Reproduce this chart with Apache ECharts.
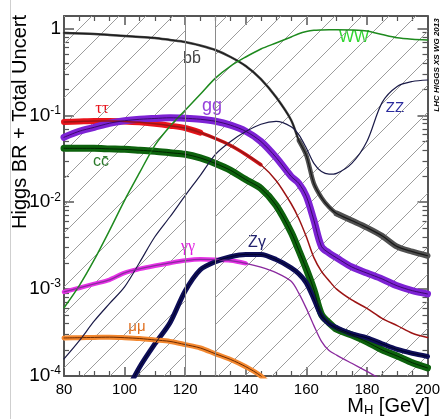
<!DOCTYPE html>
<html>
<head>
<meta charset="utf-8">
<script src="https://cdn.jsdelivr.net/npm/echarts@6/dist/echarts.min.js"></script>
<style>
html, body { margin: 0; padding: 0; background: #fff; }
#main { width: 443px; height: 419px; }
</style>
</head>
<body>
<div id="main"></div>
<script>
// Higgs mass points (GeV)
const mass = [80, 85, 90, 95, 100, 105, 110, 115, 120, 125, 130, 135, 140, 145, 150, 155, 157.5, 160, 162.5, 165, 167.5, 170, 175, 180, 185, 190, 195, 200];

// branching ratios
const brBB = [0.887, 0.876, 0.864, 0.841, 0.819, 0.798, 0.777, 0.737, 0.698, 0.636, 0.565, 0.469, 0.369, 0.261, 0.162, 0.0878, 0.0516, 0.0346, 0.0164, 0.0113, 0.0088, 0.0074, 0.00615, 0.0051, 0.0041, 0.00308, 0.0027, 0.00242];
const brWW = [6.1e-4, 1.09e-3, 2.18e-3, 4.71e-3, 0.0105, 0.022, 0.0452, 0.0749, 0.1146, 0.175, 0.268, 0.369, 0.469, 0.58, 0.68, 0.798, 0.87, 0.92, 0.95, 0.96, 0.965, 0.965, 0.96, 0.935, 0.85, 0.78, 0.75, 0.735];
const brZZ = [1.57e-4, 2.53e-4, 4.3e-4, 6.8e-4, 1.06e-3, 2.04e-3, 4.0e-3, 6.8e-3, 0.0119, 0.0204, 0.0356, 0.05, 0.065, 0.079, 0.085, 0.074, 0.06, 0.042, 0.028, 0.0225, 0.021, 0.0215, 0.028, 0.05, 0.14, 0.215, 0.245, 0.255];
const brTauTau = [0.084, 0.085, 0.086, 0.086, 0.085, 0.083, 0.080, 0.076, 0.0714, 0.0632, 0.0541, 0.045, 0.0355, 0.027, 0.0178, 0.0096, 0.0065, 0.0040, 0.0023, 0.0016, 0.00125, 0.0010, 7.5e-4, 6.0e-4, 4.6e-4, 3.8e-4, 3.1e-4, 2.77e-4];
const brGG = [0.0559, 0.0655, 0.0728, 0.0811, 0.0866, 0.090, 0.092, 0.0937, 0.0925, 0.090, 0.0854, 0.077, 0.0655, 0.050, 0.0328, 0.0198, 0.0165, 0.0117, 0.0062, 0.0031, 0.0026, 0.00229, 0.0018, 0.00153, 0.00131, 0.00109, 9.6e-4, 8.8e-4];
const brCC = [0.0417, 0.0417, 0.0417, 0.0411, 0.0406, 0.0396, 0.0386, 0.0371, 0.0356, 0.0323, 0.0279, 0.0233, 0.0182, 0.0144, 0.0092, 0.0045, 0.0028, 0.0017, 9.8e-4, 5.1e-4, 4.1e-4, 3.45e-4, 2.96e-4, 2.47e-4, 2.0e-4, 1.7e-4, 1.42e-4, 1.24e-4];
const brGamGam = [9.3e-4, 1.03e-3, 1.15e-3, 1.28e-3, 1.54e-3, 1.71e-3, 1.86e-3, 2.0e-3, 2.13e-3, 2.2e-3, 2.18e-3, 2.13e-3, 1.98e-3, 1.79e-3, 1.55e-3, 1.23e-3, 9.0e-4, 6.0e-4, 3.8e-4, 2.5e-4, 1.96e-4, 1.74e-4, 1.4e-4, 1.13e-4, 9.1e-5, 7.9e-5, 7.0e-5, 6.3e-5];
const brZGam = [null, null, null, null, 6e-5, 1.27e-4, 2.34e-4, 4.1e-4, 9.5e-4, 1.67e-3, 2.07e-3, 2.36e-3, 2.51e-3, 2.5e-3, 2.19e-3, 1.76e-3, 1.5e-3, 1.18e-3, 7.7e-4, 4.9e-4, 3.98e-4, 3.6e-4, 3.05e-4, 2.75e-4, 2.35e-4, 2.02e-4, 1.82e-4, 1.68e-4];
const brMuMu = [2.74e-4, 2.76e-4, 2.78e-4, 2.8e-4, 2.76e-4, 2.7e-4, 2.6e-4, 2.5e-4, 2.3e-4, 2.1e-4, 1.8e-4, 1.55e-4, 1.28e-4, 1.0e-4, 6.7e-5, 3.5e-5, null, null, null, null, null, null, null, null, null, null, null, null];

// tick values
const yMajor = [1e-4, 1e-3, 1e-2, 1e-1, 1];
const yMinor = [];
[1e-4, 1e-3, 1e-2, 1e-1].forEach(d => { for (let m = 2; m <= 9; m++) yMinor.push(+(m * d).toPrecision(3)); });
const hatchRanges = [[80, 120], [130, 200]];
const edgeLines = [120, 130];

const FONT = 'Liberation Sans, Arial, sans-serif';
const FRAME = '#555';

// diagonal hatch tile, lines x + y = c
const hatch = document.createElement('canvas');
hatch.width = 27; hatch.height = 27;
const hctx = hatch.getContext('2d');
hctx.strokeStyle = '#9c9c9c';
hctx.lineWidth = 1;
[0, 27, 54].forEach(c => { hctx.beginPath(); hctx.moveTo(c - 28, 28); hctx.lineTo(c + 1, -1); hctx.stroke(); });

function part(vals, lo, hi) {
    const out = [];
    mass.forEach((m, i) => {
        if (m >= lo && m <= hi && vals[i] != null) out.push([m, vals[i]]);
    });
    return out;
}

function curve(vals, color, width, lo, hi) {
    return {
        type: 'line',
        data: part(vals, lo, hi),
        symbol: 'none',
        smooth: 0.3,
        silent: true,
        lineStyle: { color: color, width: width, cap: 'round', join: 'round' },
    };
}

const chart = echarts.init(document.getElementById('main'), null, { renderer: 'canvas' });

const yBase = { type: 'log', logBase: 10, min: 1e-4, max: 1.39, splitLine: { show: false } };
const xBase = { type: 'value', min: 80, max: 200, interval: 20, splitLine: { show: false } };

const option = {
    animation: false,
    backgroundColor: '#fff',
    grid: { left: 64, right: 13, top: 16, bottom: 43 },
    xAxis: [
        Object.assign({}, xBase, {
            position: 'bottom',
            axisLine: { show: true, lineStyle: { color: FRAME, width: 2 } },
            axisTick: { inside: true, length: 9, lineStyle: { color: FRAME, width: 1.5 } },
            minorTick: { show: true, splitNumber: 4, length: 5, lineStyle: { color: FRAME, width: 1.2 } },
            axisLabel: { fontFamily: FONT, fontSize: 15, color: '#000', margin: 6 },
        }),
        Object.assign({}, xBase, {
            position: 'top',
            axisLine: { show: true, lineStyle: { color: FRAME, width: 2 } },
            axisTick: { inside: true, length: 9, lineStyle: { color: FRAME, width: 1.5 } },
            minorTick: { show: true, splitNumber: 4, length: 5, lineStyle: { color: FRAME, width: 1.2 } },
            axisLabel: { show: false },
        }),
    ],
    yAxis: [
        Object.assign({}, yBase, {
            position: 'left',
            axisLine: { show: true, lineStyle: { color: FRAME, width: 2 } },
            axisTick: { inside: true, length: 10, customValues: yMajor, lineStyle: { color: FRAME, width: 1.5 } },
            axisLabel: {
                customValues: yMajor,
                margin: 3,
                formatter: v => v >= 0.99 ? '{n|1}' : '{n|10}{s|' + Math.round(Math.log10(v)) + '}',
                rich: {
                    n: { fontFamily: FONT, fontSize: 19, color: '#000' },
                    s: { fontFamily: FONT, fontSize: 12, color: '#000', padding: [0, 0, 10, 0] },
                },
            },
        }),
        Object.assign({}, yBase, {
            position: 'left',
            axisLine: { show: false },
            axisTick: { inside: true, length: 5, customValues: yMinor, lineStyle: { color: FRAME, width: 1.2 } },
            axisLabel: { show: false },
        }),
        Object.assign({}, yBase, {
            position: 'right',
            axisLine: { show: true, lineStyle: { color: FRAME, width: 2 } },
            axisTick: { inside: true, length: 10, customValues: yMajor, lineStyle: { color: FRAME, width: 1.5 } },
            axisLabel: { show: false },
        }),
        Object.assign({}, yBase, {
            position: 'right',
            axisLine: { show: false },
            axisTick: { inside: true, length: 5, customValues: yMinor, lineStyle: { color: FRAME, width: 1.2 } },
            axisLabel: { show: false },
        }),
    ],
    series: [
        {
            type: 'line',
            data: [],
            silent: true,
            markArea: {
                silent: true,
                itemStyle: { color: { image: hatch, repeat: 'repeat' } },
                data: hatchRanges.map(r => [{ xAxis: r[0] }, { xAxis: r[1] }]),
            },
            markLine: {
                silent: true,
                symbol: 'none',
                label: { show: false },
                lineStyle: { color: '#8a8a8a', width: 1, type: 'solid' },
                data: edgeLines.map(v => ({ xAxis: v })),
            },
        },
        // uncertainty bands
        curve(brBB, '#505050', 2.5, 80, 160),
        curve(brBB, '#505050', 4.5, 157.5, 175),
        curve(brBB, '#505050', 6, 170, 200),
        curve(brTauTau, '#e8141c', 6, 80, 125),
        curve(brTauTau, '#d01418', 3.5, 120, 145),
        curve(brGG, '#7d22d4', 7, 80, 200),
        curve(brCC, '#0d620d', 7, 80, 200),
        curve(brGamGam, '#e632e6', 4.5, 80, 140),
        curve(brZGam, '#0e0e58', 5, 100, 200),
        curve(brMuMu, '#f38830', 5, 80, 150),
        // central lines
        curve(brBB, '#1a1a1a', 1.2, 80, 200),
        curve(brWW, '#1e8a1e', 1.5, 80, 200),
        curve(brZZ, '#1b1b48', 1.2, 80, 200),
        curve(brTauTau, '#9c1414', 1.5, 80, 200),
        curve(brGG, '#3a0a6a', 1, 80, 200),
        curve(brCC, '#002600', 1, 80, 200),
        curve(brGamGam, '#8a2a9e', 1.3, 80, 200),
        curve(brZGam, '#000028', 1, 100, 200),
        curve(brMuMu, '#6e2c00', 1, 80, 150),
    ],
    graphic: [
        { type: 'line', shape: { x1: 10.5, y1: 0, x2: 10.5, y2: 419 }, style: { stroke: '#cfcfcf', lineWidth: 1 }, silent: true },
        {
            type: 'text', x: 20, y: 122, rotation: Math.PI / 2, silent: true,
            style: { text: 'Higgs BR + Total Uncert', font: '20px ' + FONT, fill: '#000', align: 'center', verticalAlign: 'middle' },
        },
        {
            type: 'text', x: 430, y: 406, silent: true,
            style: {
                text: '{m|M}{h|H}{m| [GeV]}', align: 'right', verticalAlign: 'middle',
                rich: {
                    m: { fontFamily: FONT, fontSize: 20, fill: '#000' },
                    h: { fontFamily: FONT, fontSize: 13, fill: '#000', padding: [9, 0, 0, 0] },
                },
            },
        },
        {
            type: 'text', x: 437, y: 65, rotation: Math.PI / 2, silent: true,
            style: { text: 'LHC HIGGS XS WG 2013', font: 'italic bold 8px ' + FONT, fill: '#000', align: 'center', verticalAlign: 'middle' },
        },
        { type: 'text', x: 102, y: 109, silent: true, style: { text: 'ττ', font: '17px Liberation Serif, serif', fill: '#e8141c', align: 'center', verticalAlign: 'middle' } },
        { type: 'text', x: 212, y: 106, silent: true, style: { text: 'gg', font: '18px ' + FONT, fill: '#9640dc', align: 'center', verticalAlign: 'middle' } },
        { type: 'text', x: 192, y: 59, silent: true, style: { text: 'bb\u0304', font: '16px ' + FONT, fill: '#444', align: 'center', verticalAlign: 'middle' } },
        { type: 'text', x: 354, y: 38, silent: true, style: { text: 'WW', font: '16px ' + FONT, fill: '#2fd62f', align: 'center', verticalAlign: 'middle' } },
        { type: 'text', x: 395, y: 108, silent: true, style: { text: 'ZZ', font: '15px ' + FONT, fill: '#2a2a9c', align: 'center', verticalAlign: 'middle' } },
        { type: 'text', x: 101, y: 162, silent: true, style: { text: 'cc\u0304', font: '16px ' + FONT, fill: '#2a7a2a', align: 'center', verticalAlign: 'middle' } },
        { type: 'text', x: 188, y: 247, silent: true, style: { text: 'γγ', font: '16px Liberation Serif, serif', fill: '#e020e0', align: 'center', verticalAlign: 'middle' } },
        { type: 'text', x: 257, y: 243, silent: true, style: { text: 'Zγ', font: '16px ' + FONT, fill: '#22226e', align: 'center', verticalAlign: 'middle' } },
        { type: 'text', x: 137, y: 327, silent: true, style: { text: 'μμ', font: '15px ' + FONT, fill: '#e07020', align: 'center', verticalAlign: 'middle' } },
    ],
};

chart.setOption(option);
</script>
</body>
</html>
